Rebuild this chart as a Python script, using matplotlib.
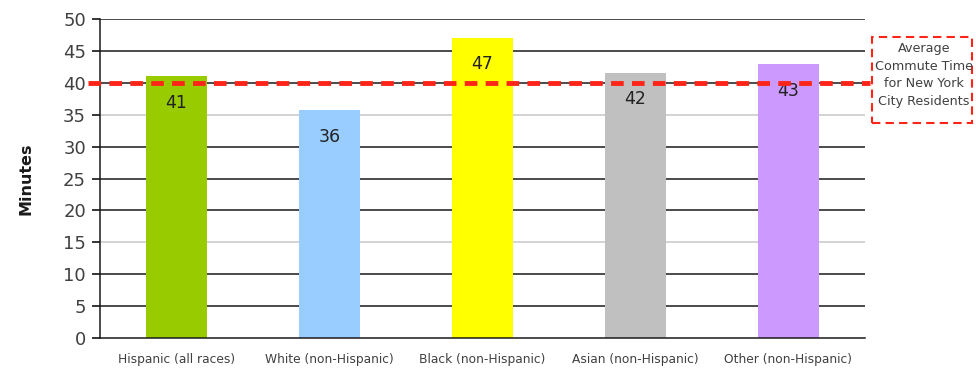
import matplotlib
matplotlib.use("Agg")
import matplotlib.pyplot as plt
import matplotlib.transforms as mtransforms
from matplotlib.patches import Rectangle

# Commute time by race / ethnicity
categories = ["Hispanic (all races)", "White (non-Hispanic)", "Black (non-Hispanic)",
              "Asian (non-Hispanic)", "Other (non-Hispanic)"]
minutes = [41.1, 35.7, 47.1, 41.6, 42.9]
bar_colors = ["#99cc00", "#99ccff", "#ffff00", "#c0c0c0", "#cc99ff"]
city_average = 40
y_ticks = [0, 5, 10, 15, 20, 25, 30, 35, 40, 45, 50]
light_grid = [15, 35]

plt.rcParams["font.family"] = ["DejaVu Sans"]

fig = plt.figure(figsize=(9.76, 3.70), dpi=100)
ax = fig.add_axes([100 / 976, 1 - 338 / 370, 765 / 976, 319 / 370])

x = list(range(len(categories)))
ax.set_xlim(-0.5, len(categories) - 0.5)
ax.set_ylim(0, 50)

# horizontal gridlines
for t in y_ticks[1:]:
    ax.axhline(t, color="#c8c8c8" if t in light_grid else "#1a1a1a",
               lw=1.1, zorder=1)

ax.bar(x, minutes, width=0.4, color=bar_colors, zorder=2)

for xi, v in zip(x, minutes):
    ax.text(xi, v - 4.2, f"{v:.0f}", ha="center", va="center",
            fontsize=12.5, color="#222222", zorder=4)

# citywide average line
trans = mtransforms.blended_transform_factory(ax.transAxes, ax.transData)
ax.plot([-0.016, 1.007], [city_average, city_average], transform=trans,
        color="#ff2418", lw=3.5, dashes=(2.6, 1.7), clip_on=False, zorder=5)

# annotation box
box = Rectangle((872 / 976, 1 - 123 / 370), 100 / 976, 86 / 370,
                transform=fig.transFigure, fill=False, edgecolor="#ff2418",
                lw=1.5, linestyle=(0, (4, 2.5)))
fig.add_artist(box)
fig.text(924 / 976, 1 - 75 / 370,
         "Average\nCommute Time\nfor New York\nCity Residents",
         ha="center", va="center", fontsize=9.2, color="#404040",
         linespacing=1.45)

ax.set_yticks(y_ticks)
ax.set_xticks(x)
ax.set_xticklabels(categories, fontsize=8.8, color="#404040")
ax.tick_params(axis="x", length=0, pad=11)
ax.tick_params(axis="y", direction="out", length=6, width=1.1,
               labelsize=13, labelcolor="#404040", pad=4)

for s in ["top", "right", "bottom"]:
    ax.spines[s].set_visible(False)
ax.spines["left"].set_color("#1a1a1a")
ax.spines["left"].set_linewidth(1.1)
ax.axhline(0, color="#1a1a1a", lw=1.1, zorder=3, clip_on=False)

ax.set_ylabel("Minutes", fontsize=11.5, fontweight="bold", color="#1a1a1a")
ax.yaxis.set_label_coords(-67 / 765, 0.5)

fig.savefig("out.png", dpi=100)
